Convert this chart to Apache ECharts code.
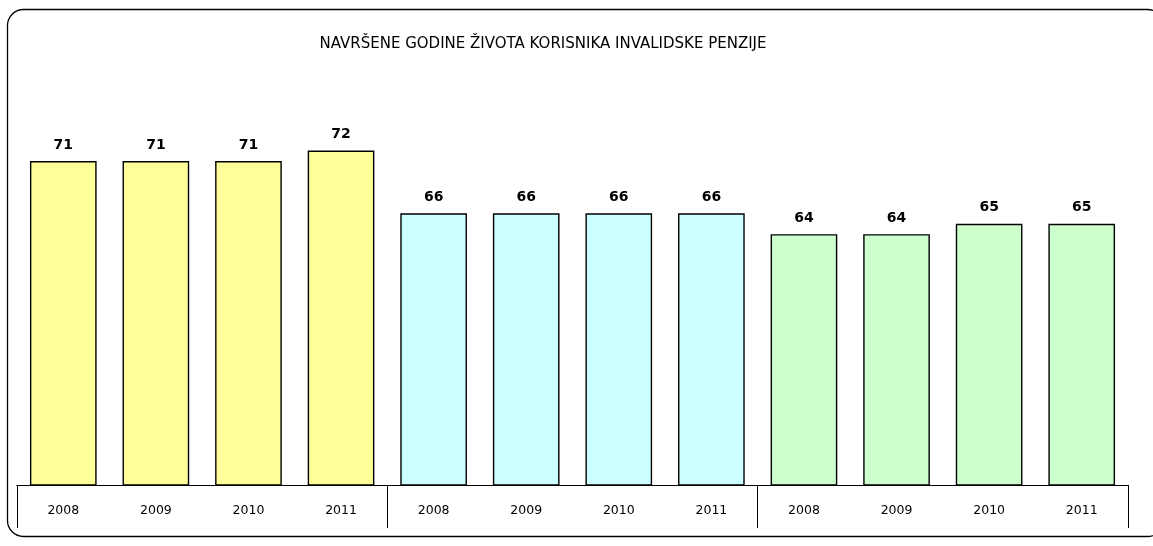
<!DOCTYPE html>
<html>
<head>
<meta charset="utf-8">
<script src="https://cdn.jsdelivr.net/npm/echarts@6/dist/echarts.min.js"></script>
<style>
  html, body { margin: 0; padding: 0; background: #fff; }
  #chart { width: 1153px; height: 546px; }
</style>
</head>
<body>
<div id="chart"></div>
<script>
// podaci
const years = ['2008', '2009', '2010', '2011', '2008', '2009', '2010', '2011', '2008', '2009', '2010', '2011']
const values = [71, 71, 71, 72, 66, 66, 66, 66, 64, 64, 65, 65]
const groups = ['A', 'B', 'C']
const groupColors = ['#ffff99', '#ccffff', '#ccffcc']
const perGroup = 4

var myChart = echarts.init(document.getElementById('chart'))

const barData = values.map((v, i) => ({
  value: v,
  itemStyle: { color: groupColors[Math.floor(i / perGroup)] }
}))

myChart.setOption({
  animation: false,
  title: {
    text: 'NAVRŠENE GODINE ŽIVOTA KORISNIKA INVALIDSKE PENZIJE',
    left: 538,
    top: 32,
    textAlign: 'center',
    textStyle: {
      color: '#000',
      fontFamily: 'DejaVu Sans',
      fontWeight: 'normal',
      fontSize: 15
    }
  },
  graphic: [
    {
      type: 'rect',
      shape: { x: 7.5, y: 9.5, width: 1156, height: 527, r: 16 },
      style: { fill: 'none', stroke: '#000', lineWidth: 1.3 },
      silent: true
    }
  ],
  grid: {
    left: 17,
    right: 25,
    top: 67,
    bottom: 61
  },
  xAxis: [
    {
      type: 'category',
      data: years,
      axisTick: { show: false },
      axisLine: { show: true, lineStyle: { color: '#000', width: 1 } },
      axisLabel: {
        interval: 0,
        margin: 19,
        color: '#000',
        fontFamily: 'DejaVu Sans',
        fontSize: 12.5
      }
    },
    {
      type: 'category',
      data: groups,
      position: 'bottom',
      axisLine: { show: true, lineStyle: { color: '#000', width: 1 } },
      axisTick: {
        show: true,
        length: 43,
        lineStyle: { color: '#000', width: 1 }
      },
      axisLabel: { show: false }
    }
  ],
  yAxis: {
    type: 'value',
    min: 40,
    max: 80,
    show: false,
    splitLine: { show: false }
  },
  series: [
    {
      type: 'bar',
      xAxisIndex: 0,
      barWidth: '72%',
      data: barData,
      itemStyle: { borderColor: '#000', borderWidth: 1.4 },
      label: {
        show: true,
        position: 'top',
        distance: 9,
        color: '#000',
        fontFamily: 'DejaVu Sans',
        fontWeight: 'bold',
        fontSize: 14
      }
    }
  ]
})
</script>
</body>
</html>
